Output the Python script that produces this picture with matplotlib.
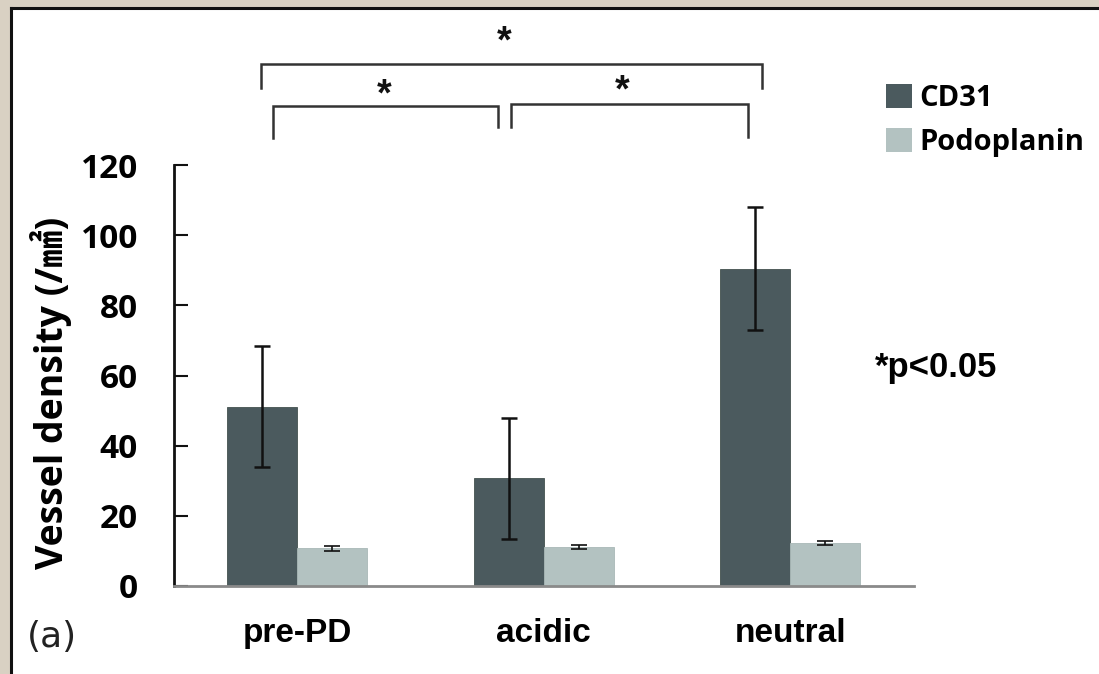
import matplotlib
matplotlib.use("Agg")
import matplotlib.pyplot as plt
from matplotlib.patches import Rectangle, Patch
import numpy as np

# ---- data ----
categories = ["pre-PD", "acidic", "neutral"]
series_names = ["CD31", "Podoplanin"]
cd31_mean = [51.1, 30.7, 90.4]
cd31_err = [17.3, 17.3, 17.5]
podo_mean = [10.7, 11.2, 12.3]
podo_err = [0.6, 0.6, 0.55]
yticks = [0, 20, 40, 60, 80, 100, 120]
ylabel_text = "Vessel density (/㎟)"
pvalue_text = "*p<0.05"
panel_text = "(a)"
# significance brackets: (x_left, x_right, y_top, left_leg_bottom, right_leg_bottom)
brackets = [
    (-0.148, 1.884, 148.8, 141.9, 141.9),
    (-0.097, 0.814, 136.9, 127.8, 130.8),
    (0.867, 1.830, 137.3, 130.8, 127.9),
]
stars = [(0.838, 154.8), (0.352, 139.7), (1.317, 140.9)]

W, H = 1099, 674
fig = plt.figure(figsize=(W / 100, H / 100), dpi=100)
fig.patch.set_facecolor("#d9d1c3")

# white panel with dark border (top & left visible)
fig.patches.append(Rectangle((11 / W, 0), (W - 11) / W + 0.01, (H - 8) / H,
                             transform=fig.transFigure, facecolor="white",
                             edgecolor="none", zorder=-5))
fig.add_artist(plt.Line2D([11 / W, 11 / W], [0, (H - 8) / H], transform=fig.transFigure,
                          color="#111111", lw=2.2, zorder=1))
fig.add_artist(plt.Line2D([11 / W, 1], [(H - 8) / H, (H - 8) / H], transform=fig.transFigure,
                          color="#111111", lw=2.2, zorder=1))

ax_left, ax_right, ax_top, ax_bot = 174, 913.6, 165, 586
ax = fig.add_axes([ax_left / W, 1 - ax_bot / H, (ax_right - ax_left) / W, (ax_bot - ax_top) / H])
ax.set_facecolor("none")
ax.set_zorder(2)

x = np.arange(len(categories))
bw = 0.284
c1, c2 = "#4b5a5e", "#b3c2c1"
ax.bar(x - bw / 2, cd31_mean, bw, color=c1, edgecolor="#44524f", linewidth=0.6,
       yerr=cd31_err, capsize=6, error_kw=dict(ecolor="#111111", elinewidth=1.8, capthick=1.8),
       label=series_names[0], zorder=2)
ax.bar(x + bw / 2, podo_mean, bw, color=c2, edgecolor="#a9b8b7", linewidth=0.6,
       yerr=podo_err, capsize=6, error_kw=dict(ecolor="#111111", elinewidth=1.2, capthick=1.2),
       label=series_names[1], zorder=2)

ax.set_xlim(-0.5, 2.5)
ax.set_ylim(0, 120)
ax.set_yticks(yticks)
ax.set_yticklabels([str(t) for t in yticks], fontfamily="Open Sans", fontweight="bold", fontsize=24)
ax.set_xticks(x)
ax.set_xticklabels(categories, fontfamily="Liberation Sans", fontweight="bold", fontsize=24)
ax.tick_params(axis="y", direction="in", length=10, width=1.5, color="#111111", pad=26)
ax.tick_params(axis="x", length=0, pad=23)
for s in ["top", "right"]:
    ax.spines[s].set_visible(False)
ax.spines["left"].set_color("#111111")
ax.spines["left"].set_linewidth(2.0)
ax.spines["bottom"].set_color("#8a8a8a")
ax.spines["bottom"].set_linewidth(2.0)
ax.spines["bottom"].set_zorder(3)

# brackets
for (xl, xr, yt, yl, yr) in brackets:
    ax.plot([xl, xl, xr, xr], [yl, yt, yt, yr], color="#333333", lw=1.8,
            clip_on=False, solid_joinstyle="miter", zorder=4)
for (sx, sy) in stars:
    ax.text(sx, sy, "*", ha="center", va="center", fontsize=27, fontweight="bold",
            fontfamily="Liberation Sans", color="#111111", clip_on=False)

# y label
fig.text(51 / W, 1 - 393 / H, ylabel_text, rotation=90, ha="center", va="center",
         fontsize=27, fontweight="bold", family=["Open Sans", "Noto Sans CJK JP"])

# p-value note
fig.text(875 / W, 1 - 367 / H, pvalue_text, ha="left", va="center", fontsize=25,
         fontweight="bold", fontfamily="Liberation Sans")

# panel label
fig.text(27 / W, 1 - 637 / H, panel_text, ha="left", va="center", fontsize=26,
         fontfamily="DejaVu Sans", color="#222222")

# legend
handles = [Patch(facecolor=c1, edgecolor="none", label=series_names[0]),
           Patch(facecolor=c2, edgecolor="none", label=series_names[1])]
leg = fig.legend(handles=handles, loc="upper left",
                 bbox_to_anchor=(886 / W, 1 - 84 / H), frameon=False,
                 prop=dict(family="Open Sans", weight="bold", size=21),
                 handlelength=0.9, handleheight=0.9, handletextpad=0.25,
                 labelspacing=0.5, borderpad=0, borderaxespad=0)

fig.savefig("out.png", dpi=100, facecolor=fig.get_facecolor())
